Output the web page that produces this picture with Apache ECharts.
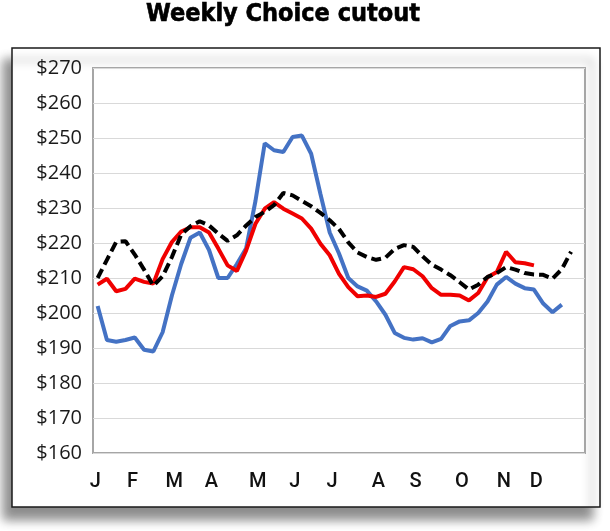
<!DOCTYPE html>
<html>
<head>
	<meta charset="UTF-8">
	<title>Weekly Choice cutout</title>
	<script type="text/javascript" src="https://cdn.jsdelivr.net/npm/echarts@6/dist/echarts.min.js"></script>
	<style type="text/css">
		html,body{margin:0; padding:0; background:#fff;}
		#chart1{width:610px; height:531px;}
	</style>
</head>
<body>
	<div id="chart1"></div>
	<script type="text/javascript">
		// weeks of the year (category axis)
		let weeks = [];
		for (let i = 1; i <= 53; i++) weeks.push('W' + i);

		// month labels, placed on half-week slots
		let months = ['J','F','M','A','M','J','J','A','S','O','N','D'];
		let monthSlots = [0, 8, 17, 25, 35, 43, 51, 61, 69, 79, 88, 95];

		let blueLine = [202, 192.3, 191.8, 192.3, 193, 189.5, 189, 194.5, 205, 214, 221.5, 223, 218, 210, 210, 214, 218.5, 232, 248.5, 246.5, 246, 250.3, 250.7, 245.5, 234, 223, 217, 210, 207.6, 206.4, 203.3, 199.5, 194.3, 192.9, 192.4, 192.8, 191.6, 192.6, 196.3, 197.6, 197.9, 200, 203.3, 208.1, 210.3, 208.4, 207.1, 206.7, 202.7, 200.2, 202.4];
		let redLine = [208.1, 209.8, 206.2, 206.9, 209.8, 208.9, 208.4, 215.4, 220.3, 223.3, 224.5, 224.5, 223, 218.4, 213.6, 212, 217.9, 225.5, 229.8, 231.7, 229.8, 228.4, 227, 224.1, 219.8, 216.5, 211.2, 207.4, 204.8, 205, 204.6, 205.5, 209, 213.1, 212.5, 210.5, 207.1, 205.2, 205.2, 205, 203.6, 205.7, 210.2, 211.7, 217.5, 214.5, 214.2, 213.6];
		let blackLine = [210, 215.2, 220.3, 220.5, 216.7, 212.4, 207.8, 210.5, 216, 222.4, 224.8, 226.2, 225, 222.7, 220.6, 222.2, 225, 227.4, 228.9, 230.8, 234.3, 233.6, 232, 230.5, 228.6, 226.5, 224, 220.2, 217.3, 216, 215.2, 215.8, 218.3, 219.4, 218.9, 216.2, 213.8, 212.4, 210.8, 208.8, 206.7, 208.1, 210.3, 211.4, 213.1, 212.4, 211.4, 211, 210.9, 209.8, 212.5, 217.5];

		let halfWeeks = [];
		for (let i = 0; i < 106; i++) halfWeeks.push('h' + i);

		let myChart = echarts.init(document.getElementById('chart1'));
		let option = {
			backgroundColor: '#fff',
			animation: false,
			graphic: [
				{
					type: 'rect',
					z: -10,
					shape: {x: 12, y: 48, width: 588, height: 459},
					style: {
						fill: '#fff',
						stroke: '#1a1a1a',
						lineWidth: 1.5,
						shadowBlur: 10,
						shadowColor: 'rgba(0,0,0,0.45)',
						shadowOffsetX: -8,
						shadowOffsetY: 12
					}
				},
				{
					type: 'text',
					style: {
						text: 'Weekly Choice cutout',
						x: 283,
						y: 14,
						textAlign: 'center',
						textVerticalAlign: 'middle',
						fill: '#000',
						stroke: '#000',
						lineWidth: 0.6,
						font: 'bold 25px "DejaVu Sans Condensed", "DejaVu Sans", sans-serif'
					}
				}
			],
			grid: {
				left: 93,
				top: 68,
				right: 25,
				bottom: 78,
				show: true,
				borderColor: '#a6a6a6',
				borderWidth: 2,
				backgroundColor: 'transparent'
			},
			xAxis: [
				{
					type: 'category',
					data: weeks,
					boundaryGap: true,
					show: false
				},
				{
					// label-only axis
					type: 'category',
					data: halfWeeks,
					position: 'bottom',
					boundaryGap: true,
					axisLine: {show: false},
					axisTick: {show: false},
					splitLine: {show: false},
					axisLabel: {
						interval: 0,
						margin: 19,
						color: '#111',
						fontFamily: 'Roboto',
						fontWeight: 500,
						fontSize: 20,
						formatter: function(value, index){
							let k = monthSlots.indexOf(index);
							return k >= 0 ? months[k] : '';
						}
					}
				}
			],
			yAxis: {
				type: 'value',
				min: 160,
				max: 270,
				interval: 10,
				axisLine: {show: false},
				axisTick: {show: false},
				splitLine: {lineStyle: {color: '#d9d9d9', width: 1}},
				axisLabel: {
					margin: 11,
					color: '#1a1a1a',
					fontFamily: 'Open Sans',
					fontSize: 20,
					formatter: function(v){ return '$' + v; }
				}
			},
			series: [
				{
					type: 'line',
					data: blueLine,
					symbol: 'none',
					lineStyle: {color: '#4472c4', width: 4}
				},
				{
					type: 'line',
					data: redLine,
					symbol: 'none',
					lineStyle: {color: '#f00000', width: 4}
				},
				{
					type: 'line',
					data: blackLine,
					symbol: 'none',
					lineStyle: {color: '#000', width: 4, type: [10, 5]}
				}
			]
		};
		myChart.setOption(option);
	</script>
</body>
</html>
